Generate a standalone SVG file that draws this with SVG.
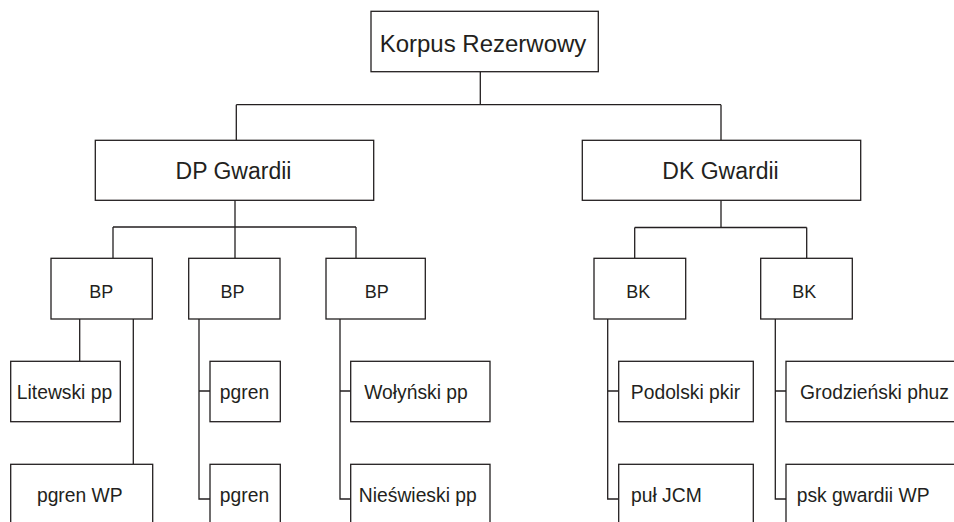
<svg xmlns="http://www.w3.org/2000/svg" width="954" height="522" viewBox="0 0 954 522">
<style>
.box{fill:#fff;stroke:#231f20;stroke-width:1.3}
.ln{fill:none;stroke:#231f20;stroke-width:1.3}
text{font-family:"Liberation Sans",Arial,sans-serif;fill:#231f20;text-anchor:middle}
.t1{font-size:24px}
.t2{font-size:23px}
.t3{font-size:18px}
.t4{font-size:19.3px}
.s{text-anchor:start}
</style>
<rect width="954" height="522" fill="#fff"/>
<g id="connectors">
<path class="ln" d="M480.3,71.7V104.7M236.3,104.7H721M236.3,104.7V140.3M721,104.7V140.3"/>
<path class="ln" d="M235,200.3V227M113,227H356M113,227V258.3M235,227V258.3M356,227V258.3"/>
<path class="ln" d="M721,200.3V227.5M634.7,227.5H806.7M634.7,227.5V258.3M806.7,227.5V258.3"/>
<path class="ln" d="M79.7,319V361.3M133.3,319V464.3"/>
<path class="ln" d="M199,319V499H210M199,391H210"/>
<path class="ln" d="M340,319V499H350.7M340,391H350.7"/>
<path class="ln" d="M607.7,319V499H618.7M607.7,391H618.7"/>
<path class="ln" d="M775.3,319V499H786M775.3,391H786"/>
</g>
<g id="korpus"><rect class="box" x="371" y="11.3" width="227.3" height="60.4"/><text class="t1" x="483" y="51.7">Korpus Rezerwowy</text></g>
<g id="dp"><rect class="box" x="95.3" y="140.3" width="278.4" height="60"/><text class="t2" x="233.5" y="179.3">DP Gwardii</text></g>
<g id="dk"><rect class="box" x="582.3" y="140.3" width="278.4" height="60"/><text class="t2" x="720.5" y="179.3">DK Gwardii</text></g>
<g id="bp1"><rect class="box" x="51" y="258.3" width="101.3" height="60.7"/><text class="t3" x="101.3" y="298">BP</text></g>
<g id="bp2"><rect class="box" x="188.7" y="258.3" width="91.3" height="60.7"/><text class="t3" x="232.5" y="298">BP</text></g>
<g id="bp3"><rect class="box" x="326" y="258.3" width="99.3" height="60.7"/><text class="t3" x="376.7" y="298">BP</text></g>
<g id="bk1"><rect class="box" x="594" y="258.3" width="91.7" height="60.7"/><text class="t3" x="638.3" y="298">BK</text></g>
<g id="bk2"><rect class="box" x="760.7" y="258.3" width="91.6" height="60.7"/><text class="t3" x="804.2" y="298">BK</text></g>
<g id="litewski"><rect class="box" x="10.7" y="361.3" width="109.6" height="60.4"/><text class="t4" x="64.5" y="399">Litewski pp</text></g>
<g id="pgrenwp"><rect class="box" x="10.7" y="464.3" width="142" height="80"/><text class="t4" x="79.8" y="502.3">pgren WP</text></g>
<g id="pgren1"><rect class="box" x="210" y="361.3" width="70.3" height="60.4"/><text class="t4" x="244.5" y="399">pgren</text></g>
<g id="pgren2"><rect class="box" x="210" y="464.3" width="70.3" height="80"/><text class="t4" x="244.5" y="502.3">pgren</text></g>
<g id="wolynski"><rect class="box" x="350.7" y="361.3" width="139.3" height="60.4"/><text class="t4" x="416" y="399">Wołyński pp</text></g>
<g id="nieswieski"><rect class="box" x="350.7" y="464.3" width="139.3" height="80"/><text class="t4" x="417.8" y="502.3">Nieświeski pp</text></g>
<g id="podolski"><rect class="box" x="618.7" y="361.3" width="134.6" height="60.4"/><text class="t4" x="685.5" y="399">Podolski pkir</text></g>
<g id="pul"><rect class="box" x="618.7" y="464.3" width="134.6" height="80"/><text class="t4 s" x="631" y="502.3">puł JCM</text></g>
<g id="grodzienski"><rect class="box" x="786" y="361.3" width="180" height="60.4"/><text class="t4" x="874.5" y="399">Grodzieński phuz</text></g>
<g id="psk"><rect class="box" x="786" y="464.3" width="180" height="80"/><text class="t4 s" x="796.7" y="502.3">psk gwardii WP</text></g>
</svg>
